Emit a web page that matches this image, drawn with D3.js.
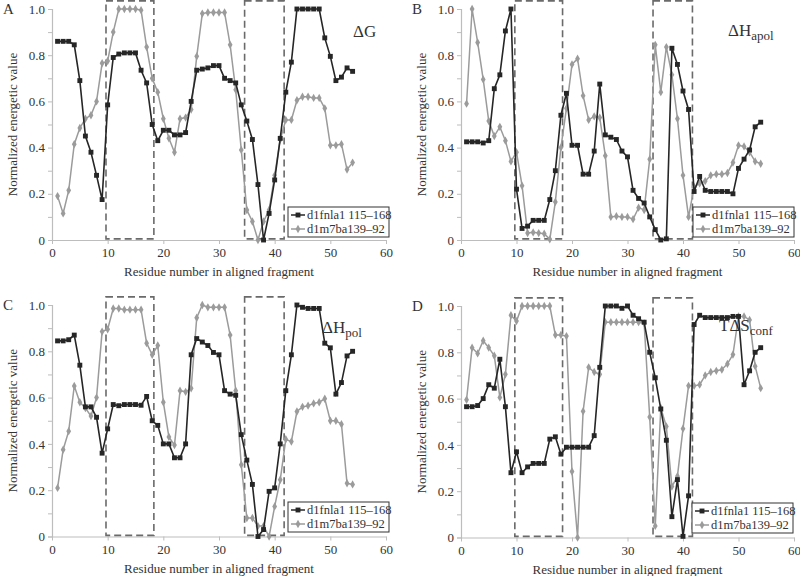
<!DOCTYPE html>
<html>
<head>
<meta charset="utf-8">
<script src="https://cdn.jsdelivr.net/npm/d3@7/dist/d3.min.js"></script>
<style>
  body { margin: 0; background: #fff; }
  svg text { font-family: "Liberation Serif", "Times New Roman", "DejaVu Serif", serif; fill: #333; }
</style>
</head>
<body>
<svg id="chart" width="800" height="576"></svg>
<script>
// residue positions along the aligned fragment
const residues = [1, 2, 3, 4, 5, 6, 7, 8, 9, 10, 11, 12, 13, 14, 15, 16, 17, 18, 19, 20,
    21, 22, 23, 24, 25, 26, 27, 28, 29, 30, 31, 32, 33, 34, 35, 36, 37, 38, 39, 40,
    41, 42, 43, 44, 45, 46, 47, 48, 49, 50, 51, 52, 53, 54];

const seriesNames = ["d1fnla1 115\u2013168", "d1m7ba139\u201392"];

// A: dG
const dgFnla = [0.86, 0.86, 0.86, 0.845, 0.69, 0.45, 0.38, 0.28, 0.175, 0.585,
    0.79, 0.805, 0.81, 0.81, 0.81, 0.735, 0.68, 0.50, 0.43, 0.475,
    0.475, 0.455, 0.455, 0.465, 0.60, 0.735, 0.74, 0.745, 0.755, 0.755,
    0.70, 0.69, 0.68, 0.585, 0.515, 0.435, 0.24, 0.0, 0.115, 0.26,
    0.44, 0.64, 0.77, 1.0, 1.0, 1.0, 1.0, 1.0, 0.875, 0.795,
    0.69, 0.705, 0.745, 0.73];
const dgM7ba = [0.19, 0.115, 0.215, 0.415, 0.485, 0.525, 0.54, 0.60, 0.765, 0.775,
    0.90, 1.0, 1.0, 1.0, 1.0, 0.995, 0.835, 0.70, 0.64, 0.525,
    0.44, 0.38, 0.525, 0.53, 0.565, 0.795, 0.98, 0.985, 0.985, 0.985,
    0.985, 0.845, 0.65, 0.39, 0.13, 0.08, 0.0, 0.08, 0.13, 0.28,
    0.435, 0.52, 0.52, 0.605, 0.62, 0.62, 0.615, 0.615, 0.57, 0.41,
    0.41, 0.415, 0.305, 0.335];

// B: dH apolar
const dhApolFnla = [0.425, 0.425, 0.425, 0.42, 0.43, 0.655, 0.715, 0.905, 1.0, 0.22,
    0.05, 0.06, 0.085, 0.085, 0.085, 0.175, 0.30, 0.54, 0.635, 0.41,
    0.41, 0.285, 0.285, 0.385, 0.675, 0.455, 0.445, 0.435, 0.385, 0.36,
    0.215, 0.18, 0.16, 0.10, 0.045, 0.0, 0.005, 0.83, 0.76, 0.645,
    0.565, 0.21, 0.275, 0.215, 0.21, 0.21, 0.21, 0.21, 0.20, 0.31,
    0.35, 0.39, 0.49, 0.51];
const dhApolM7ba = [0.59, 1.0, 0.855, 0.695, 0.515, 0.45, 0.49, 0.43, 0.34, 0.38,
    0.235, 0.03, 0.033, 0.03, 0.027, 0.003, 0.165, 0.40, 0.57, 0.76,
    0.785, 0.625, 0.52, 0.535, 0.53, 0.365, 0.10, 0.103, 0.10, 0.10,
    0.09, 0.14, 0.13, 0.35, 0.845, 0.64, 0.835, 0.715, 0.525, 0.28,
    0.10, 0.23, 0.245, 0.255, 0.28, 0.285, 0.285, 0.29, 0.335, 0.41,
    0.405, 0.38, 0.34, 0.33];

// C: dH polar
const dhPolFnla = [0.845, 0.845, 0.85, 0.87, 0.74, 0.56, 0.56, 0.515, 0.36, 0.465,
    0.57, 0.565, 0.57, 0.57, 0.57, 0.567, 0.605, 0.50, 0.48, 0.40,
    0.40, 0.34, 0.34, 0.40, 0.785, 0.855, 0.84, 0.825, 0.795, 0.785,
    0.63, 0.615, 0.61, 0.44, 0.33, 0.225, 0.0, 0.03, 0.195, 0.21,
    0.40, 0.63, 0.785, 1.0, 0.99, 0.985, 0.985, 0.985, 0.835, 0.815,
    0.615, 0.665, 0.78, 0.80];
const dhPolM7ba = [0.21, 0.375, 0.455, 0.65, 0.58, 0.555, 0.52, 0.60, 0.885, 0.895,
    0.985, 0.985, 0.98, 0.98, 0.98, 0.98, 0.835, 0.785, 0.825, 0.58,
    0.43, 0.395, 0.63, 0.625, 0.64, 0.945, 1.0, 0.99, 0.99, 0.99,
    0.99, 0.87, 0.63, 0.31, 0.08, 0.08, 0.045, 0.045, 0.0, 0.13,
    0.245, 0.42, 0.41, 0.54, 0.56, 0.565, 0.575, 0.58, 0.595, 0.50,
    0.50, 0.485, 0.23, 0.225];

// D: T dS conformational
const tdsFnla = [0.565, 0.565, 0.57, 0.60, 0.66, 0.645, 0.77, 0.565, 0.28, 0.37,
    0.28, 0.305, 0.32, 0.32, 0.32, 0.425, 0.435, 0.36, 0.39, 0.39,
    0.39, 0.39, 0.39, 0.44, 0.735, 1.0, 1.0, 1.0, 0.99, 1.0,
    0.96, 0.945, 0.93, 0.80, 0.69, 0.555, 0.42, 0.09, 0.25, 0.005,
    0.18, 0.92, 0.96, 0.95, 0.95, 0.95, 0.95, 0.95, 0.955, 0.955,
    0.66, 0.72, 0.80, 0.82];
const tdsM7ba = [0.595, 0.82, 0.795, 0.85, 0.82, 0.785, 0.605, 0.705, 0.96, 0.935,
    1.0, 1.0, 1.0, 1.0, 1.0, 1.0, 0.875, 0.875, 0.87, 0.285,
    0.0, 0.545, 0.735, 0.715, 0.705, 0.93, 0.93, 0.93, 0.93, 0.93,
    0.93, 0.93, 0.925, 0.52, 0.05, 0.56, 0.48, 0.22, 0.265, 0.47,
    0.655, 0.655, 0.66, 0.70, 0.715, 0.72, 0.725, 0.75, 0.79, 0.955,
    0.955, 0.94, 0.74, 0.645];

// dashed boxes marking the compared fragments (residue from/to)
const boxRanges = [[9.7, 18.3], [34.6, 41.7]];
const boxTop = 1.035;

const xTicks = [0, 10, 20, 30, 40, 50, 60];
const yTicks = [0, 0.1, 0.2, 0.3, 0.4, 0.5, 0.6, 0.7, 0.8, 0.9, 1.0];
const yLabelled = [0, 0.2, 0.4, 0.6, 0.8, 1.0];

const xTitle = "Residue number in aligned fragment";
const yTitle = "Normalized energetic value";

const panels = [
    { letter: "A", main: "\u0394G", sub: "", a: dgFnla, b: dgM7ba,
      x0: 52, x1: 386, y0: 240, y1: 9, titleX: 353, titleY: 37, legX: 288, legY: 207 },
    { letter: "B", main: "\u0394H", sub: "apol", a: dhApolFnla, b: dhApolM7ba,
      x0: 461, x1: 794, y0: 240, y1: 9, titleX: 728, titleY: 36, legX: 693, legY: 207 },
    { letter: "C", main: "\u0394H", sub: "pol", a: dhPolFnla, b: dhPolM7ba,
      x0: 52, x1: 386, y0: 536.5, y1: 305, titleX: 322, titleY: 333, legX: 288, legY: 502 },
    { letter: "D", main: "T\u0394S", sub: "conf", a: tdsFnla, b: tdsM7ba,
      x0: 461, x1: 794, y0: 537.5, y1: 306, titleX: 719, titleY: 331, legX: 692, legY: 503 }
];

const serif = "'Liberation Serif', 'Times New Roman', 'DejaVu Serif', serif";
const darkColor = "#262626";
const lightColor = "#9b9b9b";
const axisColor = "#bdbdbd";

const svg = d3.select("#chart");

const square = d3.symbol().type(d3.symbolSquare).size(24);
const diamond = d3.symbol().type(d3.symbolDiamond).size(20);

function drawPanel(p) {
    const g = svg.append("g");

    const x = d3.scaleLinear().domain([0, 60]).range([p.x0, p.x1]);
    const y = d3.scaleLinear().domain([0, 1]).range([p.y0, p.y1]);

    // y axis with a tick every 0.1, labels every 0.2
    const yAxis = g.append("g")
        .attr("transform", `translate(${p.x0}, 0)`)
        .call(d3.axisLeft(y)
            .tickValues(yTicks)
            .tickSize(4)
            .tickFormat(d => yLabelled.some(v => Math.abs(v - d) < 1e-6) ? (d === 0 ? "0" : d3.format(".1f")(d)) : ""));
    yAxis.attr("font-family", serif).attr("font-size", 13);
    yAxis.select(".domain").attr("stroke", axisColor).attr("stroke-width", 1.2);
    yAxis.selectAll(".tick line").attr("stroke", axisColor);
    yAxis.selectAll(".tick text")
        .attr("x", -7)
        .attr("fill", "#333");

    // x axis
    const xAxis = g.append("g")
        .attr("transform", `translate(0, ${p.y0})`)
        .call(d3.axisBottom(x).tickValues(xTicks).tickSize(4).tickSizeOuter(0));
    xAxis.attr("font-family", serif).attr("font-size", 13);
    xAxis.select(".domain").attr("stroke", axisColor).attr("stroke-width", 1.2);
    xAxis.selectAll(".tick line").attr("stroke", axisColor);
    xAxis.selectAll(".tick text")
        .attr("y", 8)
        .attr("fill", "#333");

    // axis titles
    g.append("text")
        .text(xTitle)
        .attr("x", x(30))
        .attr("y", p.y0 + 36)
        .attr("text-anchor", "middle")
        .attr("font-family", serif)
        .style("font-size", "13px");
    g.append("text")
        .text(yTitle)
        .attr("transform", `translate(${p.x0 - 35}, ${(p.y0 + p.y1) / 2}) rotate(-90)`)
        .attr("text-anchor", "middle")
        .attr("font-family", serif)
        .style("font-size", "13px");

    // panel letter
    g.append("text")
        .text(p.letter)
        .attr("x", p.x0 - 49)
        .attr("y", p.y1 + 5)
        .attr("font-family", serif)
        .style("font-size", "15px");

    // dashed fragment boxes
    g.selectAll("rect.frag")
        .data(boxRanges)
        .enter()
        .append("rect")
        .classed("frag", true)
        .attr("x", d => x(d[0]))
        .attr("y", y(boxTop))
        .attr("width", d => x(d[1]) - x(d[0]))
        .attr("height", y(0.005) - y(boxTop))
        .attr("fill", "none")
        .attr("stroke", "#6a6a6a")
        .attr("stroke-width", 1.6)
        .attr("stroke-dasharray", "7,4");

    const line = d3.line()
        .x((d, i) => x(residues[i]))
        .y(d => y(d));

    // light series drawn first, dark on top
    g.append("path")
        .datum(p.b)
        .attr("d", line)
        .attr("fill", "none")
        .attr("stroke", lightColor)
        .attr("stroke-width", 1.5);
    g.selectAll("path.mb")
        .data(p.b)
        .enter()
        .append("path")
        .classed("mb", true)
        .attr("d", diamond)
        .attr("transform", (d, i) => `translate(${x(residues[i])}, ${y(d)})`)
        .attr("fill", lightColor);

    g.append("path")
        .datum(p.a)
        .attr("d", line)
        .attr("fill", "none")
        .attr("stroke", darkColor)
        .attr("stroke-width", 1.6);
    g.selectAll("path.ma")
        .data(p.a)
        .enter()
        .append("path")
        .classed("ma", true)
        .attr("d", square)
        .attr("transform", (d, i) => `translate(${x(residues[i])}, ${y(d)})`)
        .attr("fill", darkColor);

    // panel title
    const t = g.append("text")
        .attr("x", p.titleX)
        .attr("y", p.titleY)
        .attr("font-family", serif)
        .style("font-size", "17px");
    t.append("tspan").text(p.main);
    if (p.sub) {
        t.append("tspan")
            .text(p.sub)
            .attr("dy", 4)
            .style("font-size", "13px");
    }

    // legend
    const leg = g.append("g").attr("transform", `translate(${p.legX}, ${p.legY})`);
    leg.append("rect")
        .attr("width", 101)
        .attr("height", 30)
        .attr("fill", "#fff")
        .attr("stroke", "#333")
        .attr("stroke-width", 1);
    const entries = [
        { name: seriesNames[0], color: darkColor, sym: square },
        { name: seriesNames[1], color: lightColor, sym: diamond }
    ];
    entries.forEach((e, i) => {
        const cy = 8 + i * 14;
        leg.append("line")
            .attr("x1", 3).attr("x2", 17)
            .attr("y1", cy).attr("y2", cy)
            .attr("stroke", e.color)
            .attr("stroke-width", 1.5);
        leg.append("path")
            .attr("d", e.sym)
            .attr("transform", `translate(10, ${cy})`)
            .attr("fill", e.color);
        leg.append("text")
            .text(e.name)
            .attr("x", 19)
            .attr("y", cy + 4)
            .attr("font-family", serif)
            .style("font-size", "12.5px");
    });
}

panels.forEach(drawPanel);
</script>
</body>
</html>
